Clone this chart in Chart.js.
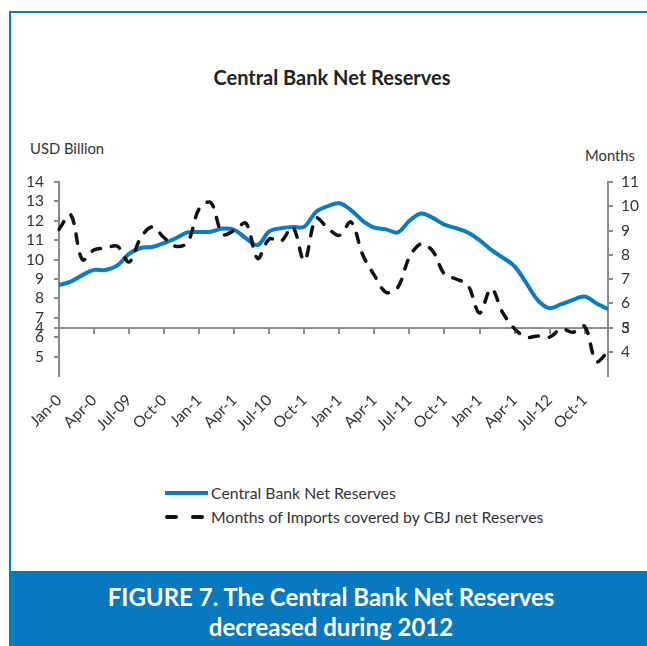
<!DOCTYPE html>
<html><head><meta charset="utf-8">
<script src="https://cdn.jsdelivr.net/npm/chart.js@4.4.0/dist/chart.umd.min.js"></script>
<style>
html,body{margin:0;padding:0;background:#fff;}
body{width:647px;height:646px;position:relative;overflow:hidden;font-family:Lato,"Open Sans",sans-serif;color:#333;}
#c{position:absolute;left:0;top:0;}
.frameTop{position:absolute;left:9px;top:11px;width:638px;height:2px;background:#0a7ac2;}
.frameLeft{position:absolute;left:9px;top:11px;width:2px;height:562px;background:#0a7ac2;}
.title{position:absolute;left:0;width:664px;top:65px;text-align:center;font-weight:bold;font-size:20px;color:#222;}
.ytitle{position:absolute;font-size:14.8px;color:#333;}
.legend{position:absolute;left:165px;font-size:15.8px;color:#333;}
.legrow{position:absolute;left:0;white-space:nowrap;height:20px;line-height:20px;}
.sw{position:absolute;left:0;top:8px;width:43px;height:4px;}
.lt{position:absolute;left:46px;top:0;}
.banner{position:absolute;left:9px;top:571px;width:638px;height:75px;background:#0878bf;color:#fff;text-align:center;font-weight:bold;font-size:24px;line-height:30px;padding-top:11px;box-sizing:border-box;padding-left:6px;}
</style>
</head>
<body>
<div class="frameTop"></div>
<div class="frameLeft"></div>
<div class="title" id="title"></div>
<div class="ytitle" style="left:30px;top:139px;" id="yl"></div>
<div class="ytitle" style="left:585px;top:146px;" id="yr"></div>
<canvas id="c" width="647" height="460"></canvas>
<div class="legend" id="legend" style="top:483px;"></div>
<div class="banner" id="banner"></div>
<script>
// ---- data ----
const categories = ["Jan-09","Feb-09","Mar-09","Apr-09","May-09","Jun-09","Jul-09","Aug-09","Sep-09","Oct-09","Nov-09","Dec-09",
"Jan-10","Feb-10","Mar-10","Apr-10","May-10","Jun-10","Jul-10","Aug-10","Sep-10","Oct-10","Nov-10","Dec-10",
"Jan-11","Feb-11","Mar-11","Apr-11","May-11","Jun-11","Jul-11","Aug-11","Sep-11","Oct-11","Nov-11","Dec-11",
"Jan-12","Feb-12","Mar-12","Apr-12","May-12","Jun-12","Jul-12","Aug-12","Sep-12","Oct-12","Nov-12","Dec-12"];
const xTickLabels = ["Jan-0","Apr-0","Jul-09","Oct-0","Jan-1","Apr-1","Jul-10","Oct-1","Jan-1","Apr-1","Jul-11","Oct-1","Jan-1","Apr-1","Jul-12","Oct-1"];
const netReserves = [8.69,8.86,9.2,9.47,9.46,9.7,10.3,10.6,10.65,10.85,11.1,11.4,
 11.42,11.44,11.6,11.54,11.1,10.75,11.45,11.62,11.68,11.7,12.45,12.75,
 12.9,12.55,12.0,11.65,11.56,11.4,12.0,12.38,12.15,11.8,11.62,11.4,
 11.0,10.5,10.1,9.65,8.8,7.9,7.5,7.7,7.92,8.1,7.75,7.45];
const importMonths = [9.05,9.65,7.8,8.2,8.28,8.35,7.7,8.7,9.15,8.7,8.35,8.5,
 9.9,10.15,8.85,9.0,9.3,7.85,8.65,8.55,9.15,7.75,9.5,9.1,
 8.8,9.35,8.0,7.15,6.45,6.65,7.9,8.45,8.15,7.2,7.0,6.75,
 5.6,6.6,5.6,4.95,4.6,4.65,4.6,4.95,4.8,5.05,3.6,4.0];
const leftTickValues = [5,6,7,8,9,10,11,12,13,14];
const rightTickValues = [4,5,6,7,8,9,10,11];
const leftCrossLabel = "4";   // label shown where the category axis crosses
const rightCrossLabel = "3";
const seriesNames = ["Central Bank Net Reserves","Months of Imports covered by CBJ net Reserves"];
const chartTitle = "Central Bank Net Reserves";
const leftAxisTitle = "USD Billion";
const rightAxisTitle = "Months";
const captionLines = ["FIGURE 7. The Central Bank Net Reserves","decreased during 2012"];

// ---- text ----
document.getElementById('title').textContent = chartTitle;
document.getElementById('yl').textContent = leftAxisTitle;
document.getElementById('yr').textContent = rightAxisTitle;
document.getElementById('banner').innerHTML = captionLines.map(s=>'<div>'+s+'</div>').join('');

const BLUE = '#0a7cc4';
const AXIS = '#8c8c8c';
const TXT = '#333333';
const FAM = 'Lato, "Open Sans", sans-serif';
const crossValue = 6.5; // left-axis value where horizontal axis sits (= 5 on right)

const lg = document.getElementById('legend');
lg.innerHTML =
 '<div class="legrow" style="top:0"><div class="sw" style="background:'+BLUE+'"></div><div class="lt">'+seriesNames[0]+'</div></div>'+
 '<div class="legrow" style="top:24px"><div class="sw" style="background:none"><span style="position:absolute;left:0;top:0;width:13px;height:4px;border-radius:2px;background:#111"></span><span style="position:absolute;left:26px;top:0;width:13px;height:4px;border-radius:2px;background:#111"></span></div><div class="lt">'+seriesNames[1]+'</div></div>';

const every3 = s => { s.ticks = s.ticks.filter(t => t.value % 3 === 0); };

new Chart(document.getElementById('c'), {
  type: 'line',
  data: {
    labels: categories,
    datasets: [
      {label: seriesNames[0], data: netReserves, yAxisID:'y', borderColor: BLUE, backgroundColor: BLUE,
       borderWidth: 4, pointRadius: 0, tension: 0.35, order: 1, fill:false},
      {label: seriesNames[1], data: importMonths, yAxisID:'y2', borderColor: '#111', backgroundColor: '#111',
       borderWidth: 3.5, borderDash:[9,11], borderCapStyle:'round', pointRadius: 0, tension: 0.35, order: 0, fill:false}
    ]
  },
  options: {
    responsive: false, animation: false, devicePixelRatio: 1,
    layout: {padding: {top: 182, left: 0, right: 0, bottom: 0}},
    plugins: {legend: {display: false}, tooltip: {enabled: false}, title:{display:false}},
    scales: {
      x: {
        type: 'category', position: {y: crossValue},
        grid: {drawOnChartArea: false, drawTicks: true, tickLength: 5, color: AXIS, lineWidth: 2},
        border: {display: true, color: AXIS, width: 2},
        ticks: {display: false, autoSkip: false},
        afterBuildTicks: every3
      },
      x2: {
        type: 'category', axis: 'x', position: 'bottom',
        grid: {display: false, drawTicks: false},
        border: {display: false},
        ticks: {autoSkip: false, minRotation: 45, maxRotation: 45, padding: 15, color: TXT, font: {family: FAM, size: 15.5},
                callback: (v, i) => xTickLabels[i]},
        afterBuildTicks: every3,
        afterFit: s => { s.height = 84; }
      },
      y: {
        type: 'linear', position: 'left', min: 4, max: 14,
        afterBuildTicks: s => { s.ticks = leftTickValues.map(v => ({value: v})).concat([{value: crossValue, alt: leftCrossLabel}]).sort((a,b)=>a.value-b.value); },
        ticks: {autoSkip: false, padding: 10, color: TXT, font: {family: FAM, size: 15.5},
                callback: (v, i, t) => t[i].alt || String(v)},
        grid: {drawOnChartArea: false, tickLength: 5, color: AXIS, lineWidth: 2},
        border: {color: AXIS, width: 2},
        afterFit: s => { s.width = 59; }
      },
      y2: {
        type: 'linear', position: 'right', min: 3, max: 11,
        afterBuildTicks: s => { s.ticks = rightTickValues.map(v => ({value: v})).concat([{value: 5, alt: rightCrossLabel}]); },
        ticks: {autoSkip: false, padding: 8, color: TXT, font: {family: FAM, size: 15.5},
                callback: (v, i, t) => t[i].alt || String(v)},
        grid: {drawOnChartArea: false, tickLength: 5, color: AXIS, lineWidth: 2},
        border: {color: AXIS, width: 2},
        afterFit: s => { s.width = 39; }
      }
    }
  }
});
</script>
</body></html>
